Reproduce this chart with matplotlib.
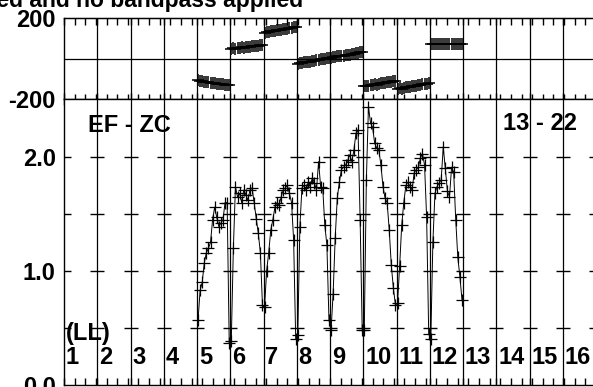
import matplotlib
matplotlib.use('Agg')
import matplotlib.pyplot as plt
import numpy as np
from matplotlib.ticker import MultipleLocator

plt.rcParams['font.family'] = ['Liberation Sans', 'DejaVu Sans']
plt.rcParams['font.weight'] = 'bold'

# columns (IF numbers) shown on the x axis
columns = list(range(1, 17))
data_columns = [5, 6, 7, 8, 9, 10, 11, 12]
nchan = 16

# phase (deg) per channel for each IF
phase = {
    5: [-107, -111, -110, -114, -116, -115, -119, -121, -120, -124, -125, -127, -126, -130, -132, -133],
    6: [47, 50, 49, 52, 53, 55, 54, 57, 58, 57, 60, 62, 61, 64, 65, 67],
    7: [127, 131, 130, 134, 137, 136, 140, 142, 141, 145, 148, 147, 151, 153, 155, 158],
    8: [-25, -22, -23, -19, -17, -15, -16, -12, -10, -8, -9, -4, -2, -3, 2, 4],
    9: [4, 7, 6, 10, 12, 14, 13, 17, 19, 18, 22, 24, 26, 27, 30, 33],
    10: [-137, -134, -135, -131, -130, -128, -129, -125, -123, -122, -120, -118, -117, -115, -113, -111],
    11: [-151, -148, -149, -145, -143, -141, -142, -138, -136, -134, -133, -130, -128, -126, -124, -121],
    12: [73, 70, 74, 72, 71, 74, 72, 70, 73, 73, 71, 72, 74, 71, 73, 72],
}

# amplitude per channel for each IF
amp = {
    5: [0.57, 0.83, 0.90, 1.07, 1.16, 1.20, 1.25, 1.45, 1.56, 1.47, 1.39, 1.42, 1.45, 1.60, 1.60, 0.37],
    6: [0.39, 1.20, 1.74, 1.65, 1.68, 1.60, 1.71, 1.67, 1.62, 1.71, 1.73, 1.60, 1.46, 1.33, 1.16, 0.70],
    7: [0.68, 1.00, 1.16, 1.36, 1.45, 1.56, 1.60, 1.58, 1.65, 1.71, 1.73, 1.75, 1.68, 1.60, 1.27, 0.40],
    8: [0.44, 1.39, 1.73, 1.75, 1.71, 1.78, 1.74, 1.82, 1.77, 1.71, 1.96, 1.74, 1.73, 1.40, 1.23, 0.57],
    9: [0.48, 0.80, 1.29, 1.64, 1.78, 1.89, 1.91, 1.93, 1.97, 2.02, 1.96, 2.06, 2.21, 2.24, 1.45, 0.48],
    10: [0.48, 1.80, 2.44, 2.30, 2.26, 2.12, 2.08, 2.06, 1.93, 1.74, 1.64, 1.60, 1.36, 1.05, 0.85, 0.70],
    11: [0.72, 1.04, 1.40, 1.60, 1.75, 1.78, 1.74, 1.71, 1.86, 1.89, 1.91, 1.99, 2.03, 1.93, 1.47, 0.45],
    12: [0.40, 1.25, 1.68, 1.74, 1.77, 1.80, 2.09, 1.90, 1.70, 1.65, 1.91, 1.87, 1.45, 1.12, 0.95, 0.75],
}

W, H = 593, 387
fig = plt.figure(figsize=(W / 100, H / 100), dpi=100)

left = 64 / W
width = 532 / W
ax1 = fig.add_axes([left, 1 - 99 / H, width, 81 / H])
ax2 = fig.add_axes([left, 1 - 385 / H, width, 286 / H])

# x positions of channels inside each column
xs, ph, am = [], [], []
for c in data_columns:
    for k in range(nchan):
        xs.append(c - 1 + (k + 0.5) / nchan)
    ph += phase[c]
    am += amp[c]

ax1.plot(xs, ph, ls='none', marker='+', ms=9, mew=1.1, color='k')
ax2.plot(xs, am, '-', color='k', lw=0.7, marker='+', ms=8, mew=0.9)

for ax in (ax1, ax2):
    ax.set_xlim(0, 16)
    for i in range(1, 16):
        ax.axvline(i, color='k', lw=0.9, zorder=1)
    for s in ax.spines.values():
        s.set_linewidth(1)
    ax.xaxis.set_major_locator(MultipleLocator(1))
    ax.xaxis.set_minor_locator(MultipleLocator(0.32))
    ax.set_xticklabels([])

ax1.axhline(0, color='k', lw=0.9)
ax1.set_ylim(-200, 200)
ax1.set_yticks([-200, 200])
ax1.set_yticklabels(['-200', '200'], fontsize=17, fontweight='bold')
ax1.tick_params(axis='y', which='both', length=0, pad=6)
ax1.tick_params(axis='x', which='both', top=False, bottom=True)
ax1.tick_params(axis='x', which='major', direction='inout', length=8, width=1)
ax1.tick_params(axis='x', which='minor', direction='inout', length=7, width=1)

# top border: ticks pointing down only
top = ax1.secondary_xaxis('top')
top.xaxis.set_major_locator(MultipleLocator(1))
top.xaxis.set_minor_locator(MultipleLocator(0.32))
top.tick_params(axis='x', which='both', direction='in', length=5, width=1)
top.set_xticklabels([])

ax2.set_ylim(0, 286 / 114)
ax2.set_yticks([0, 1, 2])
ax2.set_yticklabels(['0.0', '1.0', '2.0'], fontsize=17, fontweight='bold')
ax2.tick_params(axis='y', which='both', length=0, pad=6)
ax2.tick_params(axis='x', which='both', top=False, bottom=True, direction='in')
ax2.tick_params(axis='x', which='major', length=5, width=1)
ax2.tick_params(axis='x', which='minor', length=5, width=1)

# short dashes on the grid lines
for yv in [0.5, 1.0, 1.5, 2.0]:
    ax2.plot(range(0, 17), [yv] * 17, ls='none', marker='_', ms=10, mew=1, color='k')

ax2.text(0.72, 2.28, 'EF - ZC', fontsize=17, fontweight='bold', va='center', ha='left')
ax2.text(13.2, 2.29, '13 - 22', fontsize=17, fontweight='bold', va='center', ha='left')
ax2.text(0.05, 0.45, '(LL)', fontsize=17, fontweight='bold', va='center', ha='left')
for c in columns:
    ax2.text(c - 1 + 0.06, 0.245, str(c), fontsize=17, fontweight='bold', va='center', ha='left')

fig.text(303 / W, 1 - 7 / H, 'Amplitude calibrated and no bandpass applied',
         fontsize=16.5, fontweight='bold', ha='right', va='baseline')

fig.savefig('out.png', dpi=100)
